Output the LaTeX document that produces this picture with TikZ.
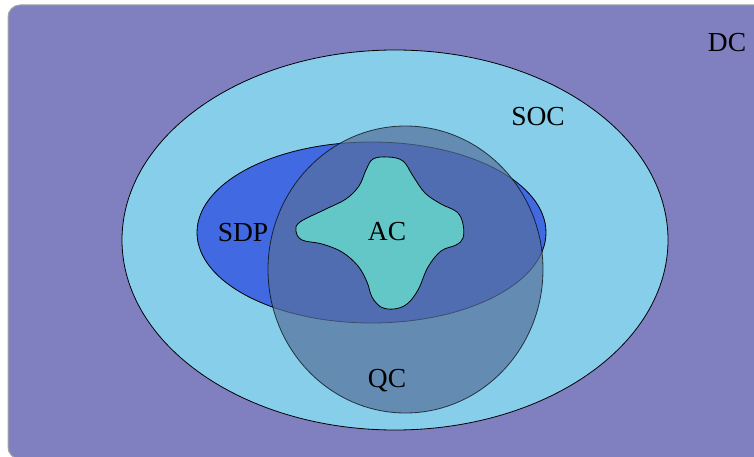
\documentclass[tikz,border=0pt]{standalone}
\usepackage{fontspec}
\setmainfont{Liberation Serif}
\usetikzlibrary{shapes.geometric}
\definecolor{dcpurple}{RGB}{128,128,192}
\definecolor{socblue}{RGB}{135,206,235}
\definecolor{sdpblue}{RGB}{65,105,225}
\definecolor{acteal}{RGB}{99,199,200}
\definecolor{qcfill}{RGB}{86,112,156}
\definecolor{frame}{RGB}{165,165,165}
\begin{document}
\begin{tikzpicture}[x=1pt,y=-1pt,
  setbox/.style={ellipse, draw=black, line width=0.8pt, inner sep=0pt},
  lbl/.style={font=\fontsize{27.5}{30}\selectfont, text=black, inner sep=0pt}]
\useasboundingbox (0,0) rectangle (754,457);
\clip (0,0) rectangle (754,457);
\draw[draw=frame, fill=dcpurple, line width=1pt, rounded corners=12pt] (8,5) rectangle (780,459);
\node[setbox, fill=socblue, minimum width=546pt, minimum height=380pt] (soc) at (395,240) {};
\node[setbox, fill=sdpblue, minimum width=349pt, minimum height=181pt] (sdp) at (371.5,232.5) {};
\node[setbox, fill=qcfill, fill opacity=0.7, draw opacity=0.7, minimum width=275pt, minimum height=287pt] (qc) at (405.5,269.5) {};
\draw[fill=acteal, line width=0.8pt] plot[smooth cycle, tension=0.6] coordinates {
 (388,157) (403,161) (413,176) (425,193) (441,204) (457,212) (463,224) (463,238)
 (456,245) (441,251) (428,267) (418,290) (407,304) (394,309) (381,307) (372,297)
 (367,282) (358,266) (342,252) (322,244) (302,240) (296,231) (300,222) (326,209)
 (346,199) (359,186) (366,170) (373,159)};
\node[lbl] (dc) at (727,43) {DC};
\node[lbl] (soclbl) at (538,117) {SOC};
\node[lbl] (sdplbl) at (243,233) {SDP};
\node[lbl] (aclbl) at (387,232) {AC};
\node[lbl] (qclbl) at (387,381) {QC};
\end{tikzpicture}
\end{document}
